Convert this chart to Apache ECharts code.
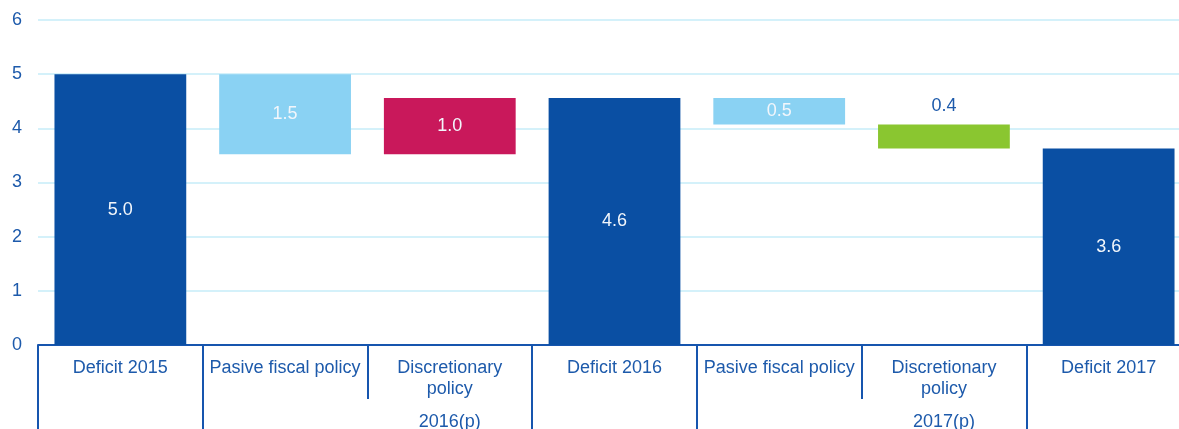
<!DOCTYPE html>
<html>
<head>
<meta charset="utf-8">
<script src="https://cdn.jsdelivr.net/npm/echarts@6/dist/echarts.min.js"></script>
<style>
  html, body { margin: 0; padding: 0; background: #fff; }
  #chart { width: 1179px; height: 429px; }
</style>
</head>
<body>
<div id="chart"></div>
<script>
var categories = ['Deficit 2015', 'Pasive fiscal policy', 'Discretionary\npolicy', 'Deficit 2016',
                  'Pasive fiscal policy', 'Discretionary\npolicy', 'Deficit 2017'];
var periods = ['', '', '2016(p)', '', '', '2017(p)', ''];
// totals stand on zero, changes float on the running total
var kinds = ['total', 'change', 'change', 'total', 'change', 'change', 'total'];
var values = [5.0, -1.48, 1.04, 4.56, -0.49, -0.44, 3.63];
// first category of each group (where the long divider goes)
var groupStarts = [0, 1, 3, 4, 6];

var barColors = ['#0a4fa3', '#8ad2f3', '#c9185b', '#0a4fa3', '#8ad2f3', '#8ac630', '#0a4fa3'];
var textColor = '#1d5aab';
var lineColor = '#1655ae';

var chart = echarts.init(document.getElementById('chart'));

var base = [], heights = [];
var running = 0;
for (var i = 0; i < values.length; i++) {
  var v = values[i];
  if (kinds[i] === 'total') {
    base.push(0);
    heights.push(v);
    running = v;
  } else {
    base.push(v < 0 ? running + v : running);
    heights.push(Math.abs(v));
    running += v;
  }
}

var barData = heights.map(function (h, i) {
  var item = { value: h, itemStyle: { color: barColors[i] } };
  // the small green step has its label above the bar
  if (i === 5) {
    item.label = { position: 'top', distance: 10, color: textColor };
  }
  return item;
});

var font = '"Liberation Sans", Arial, sans-serif';

var option = {
  animation: false,
  // plot area runs a bit past the right edge of the picture, as in the original
  grid: { left: 38, right: -12, top: 20, bottom: 84, outerBoundsMode: 'none', containLabel: false },
  xAxis: [{
    type: 'category',
    data: categories,
    position: 'bottom',
    axisLine: { show: true, lineStyle: { color: lineColor, width: 2 } },
    axisTick: { show: true, length: 54, interval: 0, lineStyle: { color: lineColor, width: 2 } },
    axisLabel: {
      interval: 0, margin: 12, color: textColor, fontSize: 18, lineHeight: 21.6,
      fontFamily: font
    },
    splitLine: { show: false }
  }, {
    type: 'category',
    data: periods,
    position: 'bottom',
    axisLine: { show: false },
    axisTick: {
      show: true, length: 90,
      interval: function (index) { return groupStarts.indexOf(index) >= 0; },
      lineStyle: { color: lineColor, width: 2 }
    },
    axisLabel: {
      interval: 0, margin: 66, color: textColor, fontSize: 18, lineHeight: 21.6,
      fontFamily: font
    },
    splitLine: { show: false }
  }],
  yAxis: {
    type: 'value',
    min: 0, max: 6, interval: 1,
    axisLine: { show: false },
    axisTick: { show: false },
    axisLabel: { color: textColor, fontSize: 18, margin: 16, fontFamily: font },
    splitLine: { lineStyle: { color: '#c6ecf9', width: 1.5 } }
  },
  series: [{
    type: 'bar',
    stack: 'fall',
    data: base,
    barWidth: '80%',
    itemStyle: { color: 'transparent' },
    silent: true
  }, {
    type: 'bar',
    stack: 'fall',
    data: barData,
    barWidth: '80%',
    label: {
      show: true,
      position: 'inside',
      color: '#f2f6fb',
      fontSize: 18,
      fontFamily: font,
      formatter: function (p) { return Math.abs(values[p.dataIndex]).toFixed(1); }
    }
  }]
};

chart.setOption(option);
</script>
</body>
</html>
